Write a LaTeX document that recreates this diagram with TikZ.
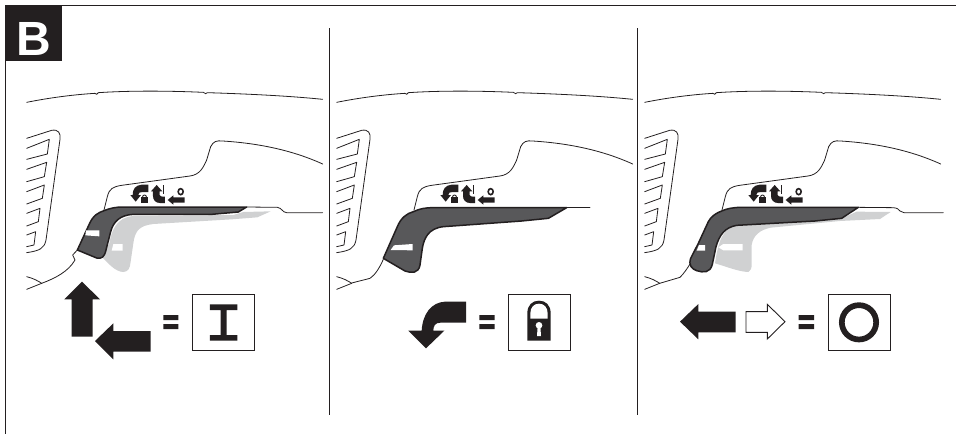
\documentclass[tikz,border=0pt]{standalone}
\usepackage{fontspec}
\setmainfont{Liberation Sans}
\definecolor{ink}{HTML}{231F20}
\definecolor{lever}{HTML}{58585A}
\definecolor{ghost}{HTML}{D0D1D2}
\tikzset{
  frameln/.style={draw=ink,line width=0.9pt},
  thin ln/.style={draw=ink,line width=0.8pt,line join=round,line cap=round},
  lever shape/.style={fill=lever,draw=none},
  lever edge/.style={draw=ink,line width=1.5pt,line cap=round,line join=round},
  tab/.style={fill=white,draw=none},
  zoomed/.style={shift={#1},scale=1/3},
  symbox/.style={draw=ink,line width=0.9pt,fill=white},
}
\newcommand{\commonpanel}{%
  % zoom-1 coordinates (origin 0,80)
  \draw[thin ln] (80,67) .. controls (150,53) and (220,44) .. (285,40) -- (290,43) -- (295,38)
     .. controls (400,31) and (520,33) .. (610,37) -- (617,41) -- (622,38)
     .. controls (750,42) and (870,48) .. (968,58);
  % vent
  \draw[thin ln] (80,175) -- (155,151) .. controls (175,147) and (183,160) .. (180,178)
     -- (138,480) .. controls (133,505) and (120,512) .. (80,518);
  \draw[thin ln] (80,205) -- (148,178) -- (142,222) -- (80,238);
  \draw[thin ln] (80,268) -- (140,247) -- (133,290) -- (80,305);
  \draw[thin ln] (80,335) -- (133,315) -- (127,355) -- (80,372);
  \draw[thin ln] (80,400) -- (120,385) -- (115,425) -- (80,438);
  \draw[thin ln] (80,465) -- (107,455) -- (102,495) -- (80,500);
  % body
  \draw[thin ln] (312,390) -- (322,350) .. controls (328,325) and (340,320) .. (365,316)
     -- (570,288) .. controls (600,284) and (610,262) .. (620,240)
     -- (632,200) .. controls (640,184) and (650,181) .. (668,183)
     .. controls (780,190) and (880,212) .. (968,252);
  % handle tail
  \draw[thin ln] (125,610) -- (80,628);
  \draw[thin ln] (80,590) .. controls (100,595) and (115,603) .. (125,610);
  % icons
  \fill[ink] (445,314) -- (425,314) .. controls (405,316) and (398,328) .. (398,345)
     -- (391,345) -- (407,365) -- (423,345) -- (415,345)
     .. controls (415,338) and (420,336) .. (428,336) -- (445,336) -- cycle;
  \fill[ink] (423,352) rectangle (444,368);
  \draw[ink,line width=0.9pt] (433.5,352) ellipse (6 and 7);
  \fill[ink] (453,334) -- (470,315) -- (487,334) -- (479,334) -- (479,345)
     .. controls (479,349) and (484,350) .. (495,350) -- (495,369) -- (480,369)
     .. controls (467,369) and (459,360) .. (459,348) -- (459,334) -- cycle;
  \fill[ink] (488,316) rectangle (493,341);
  \fill[ink] (503,360) -- (520,346) -- (520,352) -- (554,352) -- (554,368) -- (520,368) -- (520,374) -- cycle;
  \draw[ink,line width=1.6pt] (542,335) ellipse (7.5 and 9);
}
\begin{document}
\begin{tikzpicture}[x=1pt,y=-1pt]
\useasboundingbox (0,0) rectangle (956,434);
% frame
\draw[frameln] (956,5.5) -- (5,5.5) -- (5,434);
\fill[ink] (4.6,5) rectangle (62,61);
\node[text=white,font=\fontsize{48}{48}\selectfont\bfseries,anchor=base,inner sep=0pt] (letter) at (34,55) {B};
\draw[frameln] (329,28) -- (329,415);
\draw[frameln] (637,28) -- (637,415);

% ===== panel 1 =====
\begin{scope}[zoomed={(0,80)}]
  \commonpanel
  \draw[thin ln] (740,381) -- (832,382) .. controls (845,383) and (848,398) .. (860,398) -- (968,398);
  \draw[thin ln] (232,510) -- (218,525) -- (225,540) .. controls (205,575) and (165,595) .. (125,610);
  \fill[ghost] (305,530) .. controls (325,550) and (345,575) .. (370,576)
     .. controls (385,575) and (390,565) .. (392,545) -- (400,490)
     .. controls (405,450) and (420,437) .. (460,432) -- (695,418) -- (772,412) -- (812,394) -- (730,396) -- (700,405) -- (400,408)
     .. controls (350,412) and (335,450) .. (328,490) -- cycle;
  \fill[tab] (340,492) -- (368,492) -- (368,512) -- (335,512) -- cycle;
  \path[lever shape] (232,510) -- (268,432) .. controls (280,405) and (295,398) .. (312,392)
     .. controls (330,385) and (345,381) .. (370,381) -- (740,381) -- (715,396) -- (635,403) -- (400,403)
     .. controls (360,405) and (340,425) .. (332,455) -- (318,510)
     .. controls (313,532) and (305,537) .. (290,534) -- cycle;
  \draw[lever edge] (232,510) -- (268,432) .. controls (280,405) and (295,398) .. (312,392)
     .. controls (330,385) and (345,381) .. (370,381) -- (740,381) -- (715,396) -- (635,403) -- (400,403)
     .. controls (360,405) and (340,425) .. (332,455) -- (318,510)
     .. controls (313,532) and (305,537) .. (290,534) -- cycle;
  \fill[tab] (258,451) -- (298,451) -- (298,469) -- (256,466) -- cycle;
\end{scope}
\begin{scope}[zoomed={(50,270)}]
  \fill[ink] (96,35) -- (43,88) -- (65,88) -- (65,200) -- (128,200) -- (128,88) -- (150,88) -- cycle;
  \fill[ink] (135,213) -- (190,160) -- (190,183) -- (302,183) -- (302,245) -- (190,245) -- (190,268) -- cycle;
  \fill[ink] (340,135) rectangle (385,150) (340,162) rectangle (385,177);
  \draw[symbox] (428,72) rectangle (613,242);
  \fill[ink] (480,103) rectangle (562,120) (480,195) rectangle (562,212) (512,120) rectangle (530,195);
\end{scope}

% ===== panel 2 =====
\begin{scope}[zoomed={(310,80)}]
  \commonpanel
\end{scope}
\begin{scope}[zoomed={(370,170)}]
  \draw[thin ln] (590,113) -- (660,113);
  \draw[thin ln] (40,268) .. controls (28,295) and (15,315) .. (0,325) -- (-55,339);
  \path[lever shape] (40,265) -- (82,170) .. controls (92,145) and (110,130) .. (130,125)
     .. controls (150,116) and (165,113) .. (190,113) -- (590,113) -- (535,145) -- (455,153) -- (220,170)
     .. controls (175,175) and (162,205) .. (157,235) -- (150,285)
     .. controls (146,310) and (125,310) .. (105,303) -- cycle;
  \draw[lever edge] (40,265) -- (82,170) .. controls (92,145) and (110,130) .. (130,125)
     .. controls (150,116) and (165,113) .. (190,113) -- (590,113) -- (535,145) -- (455,153) -- (220,170)
     .. controls (175,175) and (162,205) .. (157,235) -- (150,285)
     .. controls (146,310) and (125,310) .. (105,303) -- cycle;
  \fill[tab] (62,240) -- (72,226) -- (128,222) -- (128,241) -- cycle;
\end{scope}
\begin{scope}[zoomed={(400,270)}]
  \fill[ink] (198,95) -- (135,95) .. controls (95,97) and (68,130) .. (65,182) -- (25,182) -- (78,235) -- (133,182) -- (100,182)
     .. controls (100,168) and (105,158) .. (122,158) -- (198,158) -- cycle;
  \fill[ink] (238,135) rectangle (284,150) (238,162) rectangle (284,177);
  \draw[symbox] (326,72) rectangle (511,242);
  % padlock
  \fill[ink] (382,212) -- (382,130) .. controls (382,105) and (397,92) .. (417,92) .. controls (437,92) and (452,105) .. (452,130) -- (452,212) -- cycle;
  \fill[white] (391,146) -- (391,130) .. controls (391,112) and (402,101) .. (417,101) .. controls (432,101) and (443,112) .. (443,130) -- (443,146) -- cycle;
  \fill[white] (417,166) circle (10);
  \fill[white] (413,168) -- (421,168) -- (423,198) -- (411,198) -- cycle;
\end{scope}

% ===== panel 3 =====
\begin{scope}[zoomed={(618,80)}]
  \commonpanel
\end{scope}
\begin{scope}[zoomed={(680,170)}]
  \draw[thin ln] (535,112) -- (640,113) .. controls (652,114) and (656,118) .. (660,123) -- (672,128) -- (790,128);
  \draw[thin ln] (30,282) .. controls (22,295) and (12,310) .. (0,322) -- (-61,340);
  \fill[ghost] (105,280) .. controls (140,290) and (175,305) .. (205,306)
     .. controls (213,303) and (215,295) .. (215,280) -- (215,225)
     .. controls (220,195) and (240,180) .. (272,173) -- (480,153) -- (600,147) -- (632,126) -- (530,125) -- (485,145) -- (170,165)
     .. controls (130,175) and (115,210) .. (105,280) -- cycle;
  \fill[tab] (115,232) -- (130,222) -- (188,222) -- (188,241) -- (130,241) -- cycle;
  \path[lever shape] (32,265) -- (55,220) -- (85,155) .. controls (92,140) and (110,128) .. (125,123)
     .. controls (140,116) and (160,112) .. (185,112) -- (535,112) -- (485,145) -- (405,153) -- (170,166)
     .. controls (135,172) and (118,195) .. (108,230) -- (97,283)
     .. controls (90,310) and (70,308) .. (50,302) .. controls (35,297) and (25,285) .. (32,265) -- cycle;
  \draw[lever edge] (32,265) -- (55,220) -- (85,155) .. controls (92,140) and (110,128) .. (125,123)
     .. controls (140,116) and (160,112) .. (185,112) -- (535,112) -- (485,145) -- (405,153) -- (170,166)
     .. controls (135,172) and (118,195) .. (108,230) -- (97,283)
     .. controls (90,310) and (70,308) .. (50,302) .. controls (35,297) and (25,285) .. (32,265) -- cycle;
  \fill[tab] (57,225) -- (75,225) -- (75,242) -- (50,242) -- cycle;
\end{scope}
\begin{scope}[zoomed={(670,270)}]
  \fill[ink] (30,155) -- (85,102) -- (85,125) -- (197,125) -- (197,187) -- (85,187) -- (85,208) -- cycle;
  \draw[ink,line width=0.9pt,fill=white,line join=miter] (228,125) -- (292,125) -- (292,103) -- (345,155) -- (292,207) -- (292,187) -- (228,187) -- cycle;
  \fill[ink] (386,135) rectangle (432,150) (386,162) rectangle (432,177);
  \draw[symbox] (474,72) rectangle (660,242);
  \draw[ink,line width=5.7pt] (567,157) circle (51.5);
\end{scope}
\end{tikzpicture}
\end{document}
